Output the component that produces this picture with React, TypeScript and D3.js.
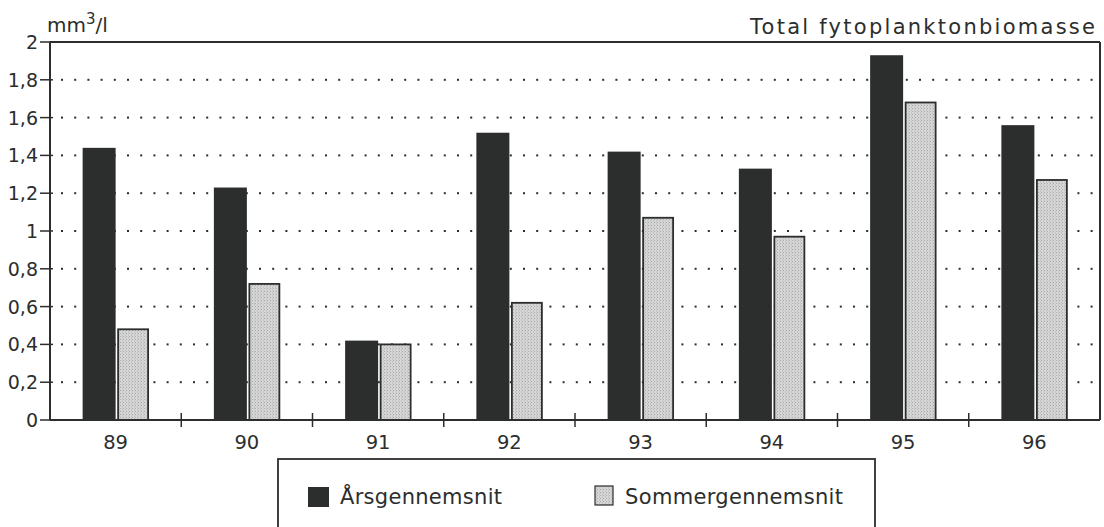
import React from "react";
import * as d3 from "d3";

const categories = ["89", "90", "91", "92", "93", "94", "95", "96"];
const aarsValues = [1.44, 1.23, 0.42, 1.52, 1.42, 1.33, 1.93, 1.56];
const sommerValues = [0.48, 0.72, 0.40, 0.62, 1.07, 0.97, 1.68, 1.27];
const yTicks = [0, 0.2, 0.4, 0.6, 0.8, 1, 1.2, 1.4, 1.6, 1.8, 2];
const seriesNames = ["Årsgennemsnit", "Sommergennemsnit"];

const W = 1104;
const H = 527;
const left = 50;
const right = 1100;
const top = 42;
const bottom = 420;
const FONT = "'DejaVu Sans', sans-serif";
const INK = "#2b2e2d";

const fmt = (v: number) => (v === 0 ? "0" : v === 1 ? "1" : v === 2 ? "2" : v.toFixed(1).replace(".", ","));

export default function App() {
  const x = d3.scaleBand<string>().domain(categories).range([left, right]).padding(0);
  const y = d3.scaleLinear().domain([0, 2]).range([bottom, top]);
  const barW = 33;
  const dots = d3.range(left + 12, right - 2, 13.2);
  const gridTicks = yTicks.filter((t) => t > 0 && t < 2);
  const divTicks = categories.slice(1).map((c) => x(c) as number);

  return (
    <svg width={W} height={H} style={{ position: "absolute", left: 0, top: 0, background: "#fff" }}>
      <defs>
        <pattern id="stip" width="3" height="3" patternUnits="userSpaceOnUse">
          <rect width="3" height="3" fill="#d6d6d6" />
          <rect x="0" y="0" width="1" height="1" fill="#a8a8a8" />
          <rect x="2" y="1.5" width="1" height="1" fill="#b5b5b5" />
        </pattern>
      </defs>
      <rect width={W} height={H} fill="#fff" />
      {gridTicks.map((t) => (
        <g key={"g" + t}>
          {dots.map((dx, i) => (
            <rect key={i} x={dx - 1} y={y(t) - 1} width={2} height={2} fill={INK} />
          ))}
        </g>
      ))}
      {categories.map((c, i) => {
        const cx = (x(c) as number) + x.bandwidth() / 2;
        return (
          <g key={c}>
            <rect x={cx - barW} y={y(aarsValues[i])} width={barW} height={y(0) - y(aarsValues[i])} fill={INK} />
            <rect
              x={cx + 2.5}
              y={y(sommerValues[i])}
              width={barW - 3}
              height={y(0) - y(sommerValues[i])}
              fill="url(#stip)"
              stroke={INK}
              strokeWidth={1.8}
            />
          </g>
        );
      })}
      <line x1={left} x2={right} y1={top} y2={top} stroke={INK} strokeWidth={2} />
      <line x1={right} x2={right} y1={top} y2={bottom} stroke={INK} strokeWidth={2} />
      <line x1={left} x2={left} y1={top} y2={bottom} stroke={INK} strokeWidth={2} />
      <line x1={left} x2={right} y1={bottom} y2={bottom} stroke={INK} strokeWidth={2} />
      {yTicks.map((t) => (
        <g key={"t" + t}>
          <line x1={left - 10} x2={left + 3} y1={y(t)} y2={y(t)} stroke={INK} strokeWidth={1.5} />
          <text x={left - 12} y={y(t) + 7} textAnchor="end" fontFamily={FONT} fontSize={19} fill={INK}>
            {fmt(t)}
          </text>
        </g>
      ))}
      {divTicks.map((dx, i) => (
        <line key={i} x1={dx} x2={dx} y1={bottom - 7} y2={bottom + 7} stroke={INK} strokeWidth={1.5} />
      ))}
      {categories.map((c) => (
        <text
          key={"l" + c}
          x={(x(c) as number) + x.bandwidth() / 2}
          y={449}
          textAnchor="middle"
          fontFamily={FONT}
          fontSize={19.5}
          fill={INK}
        >
          {c}
        </text>
      ))}
      <text x={47} y={32} fontFamily={FONT} fontSize={20} fill={INK}>
        mm<tspan fontSize={15} dy={-8}>3</tspan>
        <tspan dy={8}>/l</tspan>
      </text>
      <text
        x={750}
        y={34}
        fontFamily={FONT}
        fontSize={21}
        fill={INK}
        textLength={345}
        lengthAdjust="spacing"
      >
        Total fytoplanktonbiomasse
      </text>
      <rect x={278} y={459} width={597} height={80} fill="none" stroke={INK} strokeWidth={1.8} />
      <rect x={308} y={487} width={21} height={20} fill={INK} />
      <text x={340} y={504} fontFamily={FONT} fontSize={21} fill={INK} textLength={162} lengthAdjust="spacing">
        {seriesNames[0]}
      </text>
      <rect x={595} y={486} width={18} height={19} fill="url(#stip)" stroke={INK} strokeWidth={1.2} />
      <text x={625} y={504} fontFamily={FONT} fontSize={21} fill={INK} textLength={218} lengthAdjust="spacing">
        {seriesNames[1]}
      </text>
    </svg>
  );
}
